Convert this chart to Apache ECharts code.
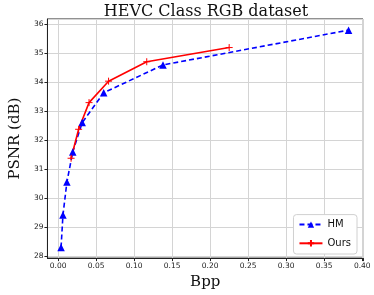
<!DOCTYPE html>
<html>
<head>
<meta charset="utf-8">
<script src="https://cdn.jsdelivr.net/npm/echarts@6/dist/echarts.min.js"></script>
<style>html,body{margin:0;padding:0;background:#fff}#c{width:374px;height:295px}</style>
</head>
<body>
<div id="c"></div>
<script>
const titleText = 'HEVC Class RGB dataset';
const xName = 'Bpp';
const yName = 'PSNR (dB)';
const hmBpp = [0.0039, 0.0064, 0.0116, 0.0193, 0.0317, 0.060, 0.138, 0.382];
const hmPsnr = [28.29, 29.41, 30.55, 31.59, 32.60, 33.63, 34.59, 35.79];
const oursBpp = [0.0171, 0.027, 0.0407, 0.0664, 0.1166, 0.225];
const oursPsnr = [31.37, 32.37, 33.29, 34.03, 34.70, 35.19];
const seriesNames = ['HM', 'Ours'];

const hmData = hmBpp.map((v, i) => [v, hmPsnr[i]]);
const oursData = oursBpp.map((v, i) => [v, oursPsnr[i]]);

const chart = echarts.init(document.getElementById('c'), null, {renderer: 'canvas'});
const tickFont = {fontFamily: 'DejaVu Sans', fontSize: 7.5, color: '#222'};
chart.setOption({
  animation: false,
  backgroundColor: '#fff',
  title: {
    text: titleText, left: 201, top: -1, textAlign: 'center',
    textStyle: {fontFamily: 'DejaVu Serif', fontSize: 16, fontWeight: 'normal', color: '#111'}
  },
  grid: {left: 39, right: 11, top: 19, bottom: 34, show: true, borderColor: '#222', borderWidth: 1, backgroundColor: 'transparent'},
  xAxis: {
    type: 'value', min: -0.014, max: 0.401, splitNumber: 8,
    name: xName, nameLocation: 'middle', nameGap: 16,
    nameTextStyle: {fontFamily: 'DejaVu Serif', fontSize: 15, color: '#111'},
    axisLine: {show: true, onZero: false, lineStyle: {color: '#222', width: 1}},
    axisTick: {show: true, length: 3, lineStyle: {color: '#222'}},
    axisLabel: Object.assign({margin: 4, showMinLabel: false, showMaxLabel: true,
      formatter: v => (Math.abs(v * 20 - Math.round(v * 20)) < 1e-6 ? v.toFixed(2) : '')}, tickFont),
    splitLine: {show: true, lineStyle: {color: '#d4d4d4', width: 1}}
  },
  yAxis: {
    type: 'value', min: 27.925, max: 36.175, splitNumber: 8,
    name: yName, nameLocation: 'middle', nameGap: 23,
    nameTextStyle: {fontFamily: 'DejaVu Serif', fontSize: 15, color: '#111'},
    axisLine: {show: true, onZero: false, lineStyle: {color: '#222', width: 1}},
    axisTick: {show: true, length: 3, lineStyle: {color: '#222'}},
    axisLabel: Object.assign({margin: 4, showMinLabel: false, showMaxLabel: false,
      formatter: v => (Math.abs(v - Math.round(v)) < 1e-6 ? String(Math.round(v)) : '')}, tickFont),
    splitLine: {show: true, lineStyle: {color: '#d4d4d4', width: 1}}
  },
  legend: {
    orient: 'vertical', right: 17, bottom: 41,
    itemWidth: 23, itemHeight: 8, itemGap: 8,
    padding: [5, 6, 5, 5],
    backgroundColor: '#fff', borderColor: '#d0d0d0', borderWidth: 1, borderRadius: 3,
    textStyle: {fontFamily: 'DejaVu Sans', fontSize: 10, color: '#111'},
    data: seriesNames
  },
  series: [
    {
      name: seriesNames[0], type: 'line', data: hmData,
      symbol: 'triangle', symbolSize: 7.5,
      lineStyle: {color: '#0000ff', width: 1.6, type: [5, 3]},
      itemStyle: {color: '#0000ff', borderWidth: 0}
    },
    {
      name: seriesNames[1], type: 'line', data: oursData,
      symbol: 'path://M0,5L10,5M5,0L5,10', symbolSize: 7,
      lineStyle: {color: '#ff0000', width: 1.6},
      itemStyle: {color: 'none', borderColor: '#ff0000', borderWidth: 1}
    }
  ]
});
</script>
</body>
</html>
